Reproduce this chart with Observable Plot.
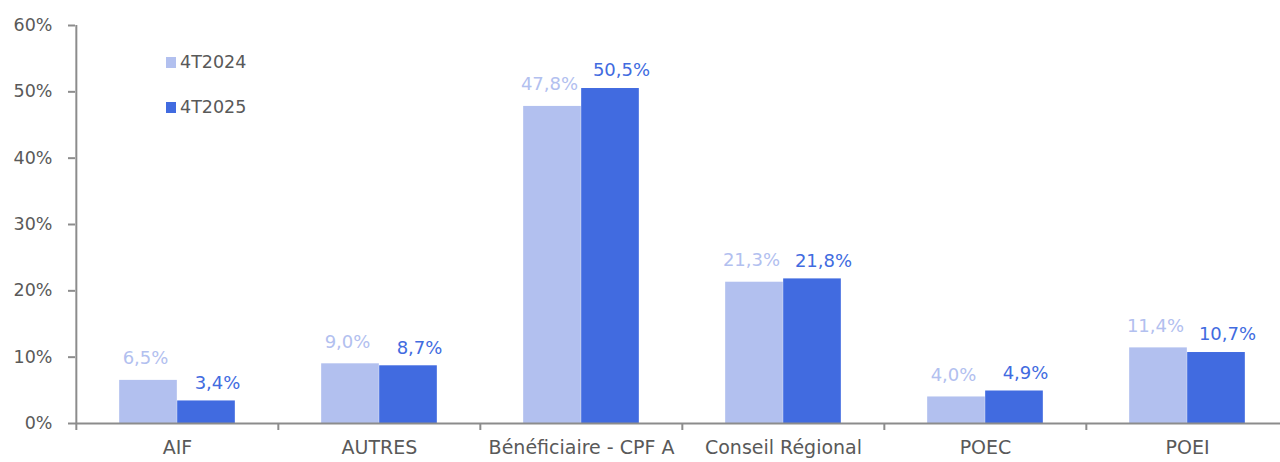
<!DOCTYPE html>
<html>
<head>
<meta charset="utf-8">
<script src="https://cdn.jsdelivr.net/npm/d3@7"></script>
<script src="https://cdn.jsdelivr.net/npm/@observablehq/plot@0.6"></script>
<style>
  html, body { margin: 0; padding: 0; background: #fff; overflow: hidden; }
  #wrap { position: relative; width: 1280px; height: 462px; }
  .legend { position: absolute; left: 166px; font-family: "DejaVu Sans", sans-serif; font-size: 17.5px; color: #595959; display: flex; align-items: center; }
  .legend span.sw { display: inline-block; width: 10px; height: 11px; margin-right: 4px; }
</style>
</head>
<body>
<div id="wrap"></div>
<script>
const categories = ["AIF", "AUTRES", "Bénéficiaire - CPF A", "Conseil Régional", "POEC", "POEI"];
const series = ["4T2024", "4T2025"];
const values2024 = [6.5, 9.0, 47.8, 21.3, 4.0, 11.4];
const values2025 = [3.4, 8.7, 50.5, 21.8, 4.9, 10.7];
const yTicks = [0, 10, 20, 30, 40, 50, 60];
const colors = ["#b2c0ef", "#416be0"];

const data = [];
categories.forEach((c, i) => {
  data.push({cat: c, series: series[0], value: values2024[i]});
  data.push({cat: c, series: series[1], value: values2025[i]});
});
const d24 = data.filter(d => d.series === series[0]);
const d25 = data.filter(d => d.series === series[1]);

const W = 1280, H = 462;
const x0 = 75, x1 = 1289;
const bw = (x1 - x0) / categories.length;
const barW = 58;
const outer = (bw - 2 * barW) / 2;
const fmt = v => v.toFixed(1).replace(".", ",") + "%";
const font = "'DejaVu Sans', sans-serif";

const chart = Plot.plot({
  width: W,
  height: H,
  marginLeft: 75,
  marginRight: 0,
  marginTop: 25,
  marginBottom: 39,
  style: {fontFamily: font, background: "#fff", overflow: "visible"},
  x: {domain: categories, range: [x0, x1], padding: 0, axis: null, label: null},
  y: {domain: [0, 60], axis: null, label: null},
  marks: [
    Plot.barY(d24, {x: "cat", y: "value", fill: colors[0], insetLeft: outer, insetRight: outer + barW}),
    Plot.barY(d25, {x: "cat", y: "value", fill: colors[1], insetLeft: outer + barW, insetRight: outer}),
    Plot.text(d24, {x: "cat", y: "value", text: d => fmt(d.value), fill: colors[0], dx: -barW / 2 - 3, dy: -22, fontSize: 18}),
    Plot.text(d25, {x: "cat", y: "value", text: d => fmt(d.value), fill: colors[1], dx: barW / 2 + 11, dy: -18, fontSize: 18}),
    Plot.ruleY([0], {stroke: "#8c8c8c", strokeWidth: 2}),
    Plot.axisY({ticks: yTicks, tickFormat: d => d + "%", tickSize: 7, tickPadding: 16, stroke: "#8c8c8c", fill: "#595959", fontSize: 17.5, strokeWidth: 2, label: null}),
    Plot.ruleX([categories[0]], {dx: -bw / 2, y1: 0, y2: 60, stroke: "#8c8c8c", strokeWidth: 2}),
    Plot.axisX({ticks: categories, tickSize: 7, tickFormat: () => "", dx: -bw / 2, stroke: "#8c8c8c", strokeWidth: 2, label: null}),
    Plot.axisX({ticks: categories, tickSize: 0, tickPadding: 17, fill: "#595959", fontSize: 19, lineAnchor: "top", label: null})
  ]
});

const wrap = document.getElementById("wrap");
wrap.appendChild(chart);
[[series[0], colors[0], 52], [series[1], colors[1], 97]].forEach(([name, col, top]) => {
  const div = document.createElement("div");
  div.className = "legend";
  div.style.top = top + "px";
  div.innerHTML = `<span class="sw" style="background:${col}"></span><span>${name}</span>`;
  wrap.appendChild(div);
});
</script>
</body>
</html>
